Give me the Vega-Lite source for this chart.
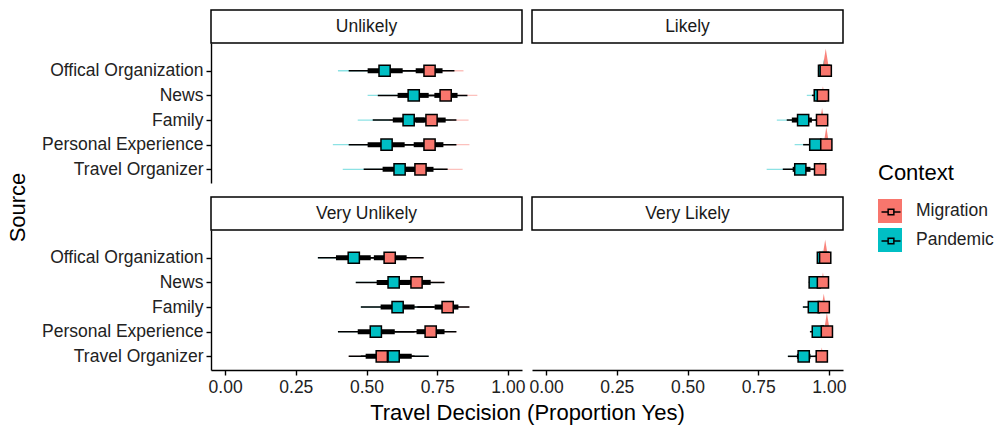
{
  "$schema": "https://vega.github.io/schema/vega-lite/v6.json",
  "autosize": {"type": "pad"},
  "padding": {"left": 6, "top": 9, "right": 8, "bottom": 2},
  "datasets": {
    "d": [
      {"panel": "Unlikely", "Source": "Offical Organization", "Context": "Pandemic", "med": 0.564, "lo66": 0.504, "hi66": 0.628, "lo95": 0.437, "hi95": 0.69, "slo": 0.399, "shi": 0.72, "peak": 0},
      {"panel": "Unlikely", "Source": "News", "Context": "Pandemic", "med": 0.667, "lo66": 0.61, "hi66": 0.72, "lo95": 0.54, "hi95": 0.78, "slo": 0.504, "shi": 0.81, "peak": 0},
      {"panel": "Unlikely", "Source": "Family", "Context": "Pandemic", "med": 0.649, "lo66": 0.593, "hi66": 0.705, "lo95": 0.522, "hi95": 0.76, "slo": 0.469, "shi": 0.8, "peak": 0},
      {"panel": "Unlikely", "Source": "Personal Experience", "Context": "Pandemic", "med": 0.571, "lo66": 0.504, "hi66": 0.635, "lo95": 0.437, "hi95": 0.69, "slo": 0.381, "shi": 0.74, "peak": 0},
      {"panel": "Unlikely", "Source": "Travel Organizer", "Context": "Pandemic", "med": 0.617, "lo66": 0.557, "hi66": 0.67, "lo95": 0.49, "hi95": 0.73, "slo": 0.416, "shi": 0.77, "peak": 0},
      {"panel": "Likely", "Source": "Offical Organization", "Context": "Pandemic", "med": 0.983, "lo66": 0.975, "hi66": 0.99, "lo95": 0.965, "hi95": 0.995, "slo": 0.961, "shi": 1.0, "peak": 0.55},
      {"panel": "Likely", "Source": "News", "Context": "Pandemic", "med": 0.968, "lo66": 0.958, "hi66": 0.976, "lo95": 0.94, "hi95": 0.985, "slo": 0.922, "shi": 0.995, "peak": 0.2},
      {"panel": "Likely", "Source": "Family", "Context": "Pandemic", "med": 0.909, "lo66": 0.869, "hi66": 0.94, "lo95": 0.851, "hi95": 0.96, "slo": 0.816, "shi": 0.975, "peak": 0.08},
      {"panel": "Likely", "Source": "Personal Experience", "Context": "Pandemic", "med": 0.952, "lo66": 0.94, "hi66": 0.965, "lo95": 0.909, "hi95": 0.978, "slo": 0.879, "shi": 0.99, "peak": 0.2},
      {"panel": "Likely", "Source": "Travel Organizer", "Context": "Pandemic", "med": 0.899, "lo66": 0.872, "hi66": 0.935, "lo95": 0.837, "hi95": 0.955, "slo": 0.78, "shi": 0.97, "peak": 0.06},
      {"panel": "Very Unlikely", "Source": "Offical Organization", "Context": "Pandemic", "med": 0.455, "lo66": 0.392, "hi66": 0.515, "lo95": 0.328, "hi95": 0.58, "slo": 0.328, "shi": 0.58, "peak": 0},
      {"panel": "Very Unlikely", "Source": "News", "Context": "Pandemic", "med": 0.596, "lo66": 0.536, "hi66": 0.65, "lo95": 0.462, "hi95": 0.72, "slo": 0.462, "shi": 0.72, "peak": 0},
      {"panel": "Very Unlikely", "Source": "Family", "Context": "Pandemic", "med": 0.61, "lo66": 0.55, "hi66": 0.67, "lo95": 0.48, "hi95": 0.74, "slo": 0.48, "shi": 0.74, "peak": 0},
      {"panel": "Very Unlikely", "Source": "Personal Experience", "Context": "Pandemic", "med": 0.533, "lo66": 0.469, "hi66": 0.6, "lo95": 0.399, "hi95": 0.67, "slo": 0.399, "shi": 0.67, "peak": 0},
      {"panel": "Very Unlikely", "Source": "Travel Organizer", "Context": "Pandemic", "med": 0.596, "lo66": 0.54, "hi66": 0.66, "lo95": 0.48, "hi95": 0.72, "slo": 0.48, "shi": 0.72, "peak": 0},
      {"panel": "Very Likely", "Source": "Offical Organization", "Context": "Pandemic", "med": 0.979, "lo66": 0.972, "hi66": 0.985, "lo95": 0.965, "hi95": 0.99, "slo": 0.965, "shi": 0.99, "peak": 0.35},
      {"panel": "Very Likely", "Source": "News", "Context": "Pandemic", "med": 0.95, "lo66": 0.94, "hi66": 0.96, "lo95": 0.929, "hi95": 0.97, "slo": 0.929, "shi": 0.97, "peak": 0.1},
      {"panel": "Very Likely", "Source": "Family", "Context": "Pandemic", "med": 0.947, "lo66": 0.93, "hi66": 0.96, "lo95": 0.908, "hi95": 0.972, "slo": 0.908, "shi": 0.972, "peak": 0.1},
      {"panel": "Very Likely", "Source": "Personal Experience", "Context": "Pandemic", "med": 0.961, "lo66": 0.95, "hi66": 0.97, "lo95": 0.933, "hi95": 0.98, "slo": 0.933, "shi": 0.98, "peak": 0.1},
      {"panel": "Very Likely", "Source": "Travel Organizer", "Context": "Pandemic", "med": 0.911, "lo66": 0.887, "hi66": 0.935, "lo95": 0.855, "hi95": 0.955, "slo": 0.855, "shi": 0.955, "peak": 0.05},
      {"panel": "Unlikely", "Source": "Offical Organization", "Context": "Migration", "med": 0.723, "lo66": 0.674, "hi66": 0.769, "lo95": 0.62, "hi95": 0.811, "slo": 0.58, "shi": 0.843, "peak": 0},
      {"panel": "Unlikely", "Source": "News", "Context": "Migration", "med": 0.78, "lo66": 0.74, "hi66": 0.822, "lo95": 0.69, "hi95": 0.857, "slo": 0.65, "shi": 0.892, "peak": 0},
      {"panel": "Unlikely", "Source": "Family", "Context": "Migration", "med": 0.73, "lo66": 0.675, "hi66": 0.78, "lo95": 0.62, "hi95": 0.818, "slo": 0.58, "shi": 0.861, "peak": 0},
      {"panel": "Unlikely", "Source": "Personal Experience", "Context": "Migration", "med": 0.723, "lo66": 0.667, "hi66": 0.772, "lo95": 0.615, "hi95": 0.818, "slo": 0.57, "shi": 0.864, "peak": 0},
      {"panel": "Unlikely", "Source": "Travel Organizer", "Context": "Migration", "med": 0.691, "lo66": 0.64, "hi66": 0.737, "lo95": 0.59, "hi95": 0.787, "slo": 0.55, "shi": 0.84, "peak": 0},
      {"panel": "Likely", "Source": "Offical Organization", "Context": "Migration", "med": 0.989, "lo66": 0.984, "hi66": 0.994, "lo95": 0.975, "hi95": 0.998, "slo": 0.97, "shi": 1.0, "peak": 1.0},
      {"panel": "Likely", "Source": "News", "Context": "Migration", "med": 0.979, "lo66": 0.972, "hi66": 0.986, "lo95": 0.962, "hi95": 0.993, "slo": 0.955, "shi": 0.998, "peak": 0.42},
      {"panel": "Likely", "Source": "Family", "Context": "Migration", "med": 0.976, "lo66": 0.966, "hi66": 0.985, "lo95": 0.95, "hi95": 0.992, "slo": 0.94, "shi": 0.998, "peak": 0.55},
      {"panel": "Likely", "Source": "Personal Experience", "Context": "Migration", "med": 0.991, "lo66": 0.986, "hi66": 0.995, "lo95": 0.978, "hi95": 0.998, "slo": 0.97, "shi": 1.0, "peak": 0.8},
      {"panel": "Likely", "Source": "Travel Organizer", "Context": "Migration", "med": 0.969, "lo66": 0.955, "hi66": 0.98, "lo95": 0.935, "hi95": 0.99, "slo": 0.925, "shi": 0.995, "peak": 0.38},
      {"panel": "Very Unlikely", "Source": "Offical Organization", "Context": "Migration", "med": 0.582, "lo66": 0.526, "hi66": 0.642, "lo95": 0.46, "hi95": 0.702, "slo": 0.46, "shi": 0.702, "peak": 0},
      {"panel": "Very Unlikely", "Source": "News", "Context": "Migration", "med": 0.677, "lo66": 0.62, "hi66": 0.727, "lo95": 0.55, "hi95": 0.776, "slo": 0.55, "shi": 0.776, "peak": 0},
      {"panel": "Very Unlikely", "Source": "Family", "Context": "Migration", "med": 0.787, "lo66": 0.741, "hi66": 0.825, "lo95": 0.68, "hi95": 0.864, "slo": 0.68, "shi": 0.864, "peak": 0},
      {"panel": "Very Unlikely", "Source": "Personal Experience", "Context": "Migration", "med": 0.727, "lo66": 0.677, "hi66": 0.776, "lo95": 0.6, "hi95": 0.818, "slo": 0.6, "shi": 0.818, "peak": 0},
      {"panel": "Very Unlikely", "Source": "Travel Organizer", "Context": "Migration", "med": 0.554, "lo66": 0.497, "hi66": 0.61, "lo95": 0.437, "hi95": 0.67, "slo": 0.437, "shi": 0.67, "peak": 0},
      {"panel": "Very Likely", "Source": "Offical Organization", "Context": "Migration", "med": 0.987, "lo66": 0.982, "hi66": 0.992, "lo95": 0.975, "hi95": 0.996, "slo": 0.97, "shi": 1.0, "peak": 0.82},
      {"panel": "Very Likely", "Source": "News", "Context": "Migration", "med": 0.979, "lo66": 0.972, "hi66": 0.986, "lo95": 0.962, "hi95": 0.993, "slo": 0.955, "shi": 0.998, "peak": 0.45},
      {"panel": "Very Likely", "Source": "Family", "Context": "Migration", "med": 0.982, "lo66": 0.975, "hi66": 0.988, "lo95": 0.965, "hi95": 0.994, "slo": 0.96, "shi": 0.998, "peak": 0.6},
      {"panel": "Very Likely", "Source": "Personal Experience", "Context": "Migration", "med": 0.993, "lo66": 0.988, "hi66": 0.996, "lo95": 0.98, "hi95": 0.999, "slo": 0.975, "shi": 1.0, "peak": 0.86},
      {"panel": "Very Likely", "Source": "Travel Organizer", "Context": "Migration", "med": 0.975, "lo66": 0.965, "hi66": 0.984, "lo95": 0.95, "hi95": 0.99, "slo": 0.945, "shi": 0.996, "peak": 0.4}
    ]
  },
  "columns": 2,
  "spacing": {"row": 0, "column": 10},
  "bounds": "flush",
  "concat": [
    {
      "width": 311, "height": 33,
      "data": {"values": [{"label": "Unlikely"}]},
      "view": {"stroke": "black", "strokeWidth": 1.5, "fill": "white"},
      "mark": {"type": "text", "fontSize": 17.5, "font": "Liberation Sans", "color": "#1a1a1a"},
      "encoding": {"text": {"field": "label", "type": "nominal"}}
    },
    {
      "width": 311, "height": 33,
      "data": {"values": [{"label": "Likely"}]},
      "view": {"stroke": "black", "strokeWidth": 1.5, "fill": "white"},
      "mark": {"type": "text", "fontSize": 17.5, "font": "Liberation Sans", "color": "#1a1a1a"},
      "encoding": {"text": {"field": "label", "type": "nominal"}}
    },
    {
      "width": 311, "height": 140,
      "data": {"name": "d"},
      "transform": [{"filter": "datum.panel === 'Unlikely'"}],
      "encoding": {
        "y": {"field": "Source", "type": "nominal", "sort": ["Offical Organization", "News", "Family", "Personal Experience", "Travel Organizer"], "scale": {"type": "point", "padding": 0.84, "align": 0.67},
          "axis": {"title": "Source", "titleX": -187, "titleY": 164, "titleAngle": 270, "titleAlign": "center", "titleBaseline": "alphabetic"}}
      },
      "layer": [
        {"mark": {"type": "rule", "strokeWidth": 1.3, "opacity": 0.45}, "encoding": {"x": {"field": "slo", "type": "quantitative", "scale": {"domain": [-0.05, 1.05], "nice": false, "zero": false}, "axis": null}, "x2": {"field": "shi"}, "stroke": {"field": "Context", "type": "nominal", "scale": {"domain": ["Pandemic", "Migration"], "range": ["#00BFC4", "#F8766D"]}, "legend": null}}},
        {"mark": {"type": "rule", "color": "black", "strokeWidth": 1.5}, "encoding": {"x": {"field": "lo95", "type": "quantitative"}, "x2": {"field": "hi95"}}},
        {"mark": {"type": "rule", "color": "black", "strokeWidth": 5}, "encoding": {"x": {"field": "lo66", "type": "quantitative"}, "x2": {"field": "hi66"}}},
        {"mark": {"type": "point", "shape": "M-0.16,0L0,-1L0.16,0Z", "filled": true, "opacity": 0.9, "strokeWidth": 0}, "encoding": {"x": {"field": "med", "type": "quantitative"}, "fill": {"field": "Context", "type": "nominal", "scale": {"domain": ["Pandemic", "Migration"], "range": ["#00BFC4", "#F8766D"]}, "legend": null}, "size": {"field": "peak", "type": "quantitative", "scale": {"type": "pow", "exponent": 2, "domain": [0, 1], "range": [0, 1936]}, "legend": null}}},
        {"mark": {"type": "square", "size": 125, "filled": true, "stroke": "black", "strokeWidth": 1.5, "opacity": 1}, "encoding": {"x": {"field": "med", "type": "quantitative"}, "color": {"field": "Context", "type": "nominal", "scale": {"domain": ["Migration", "Pandemic"], "range": ["#F8766D", "#00BFC4"]},
          "legend": {"title": "Context", "orient": "none", "legendX": 667, "legendY": 153, "symbolType": "square", "symbolSize": 576, "symbolStrokeWidth": 0, "symbolOpacity": 1, "titleFontSize": 22, "titleFontWeight": "normal", "titleColor": "black", "labelFontSize": 17.5, "labelColor": "#222", "titlePadding": 14, "rowPadding": 5, "labelOffset": 14}}}},
        {"mark": {"type": "point", "filled": false, "opacity": 0}, "encoding": {"x": {"field": "med", "type": "quantitative"}, "shape": {"field": "Context", "type": "nominal", "scale": {"range": ["M-1,0L-0.3,0M0.3,0L1,0M-0.3,-0.3L0.3,-0.3L0.3,0.3L-0.3,0.3Z", "M-1,0L-0.3,0M0.3,0L1,0M-0.3,-0.3L0.3,-0.3L0.3,0.3L-0.3,0.3Z"]},
          "legend": {"title": null, "orient": "none", "legendX": 669.5, "legendY": 191.5, "symbolSize": 361, "symbolStrokeWidth": 1.5, "symbolStrokeColor": "black", "symbolFillColor": "transparent", "symbolOpacity": 1, "labelExpr": "''", "labelFontSize": 17.5, "rowPadding": 10, "labelOffset": 0}}}}
      ]
    },
    {
      "width": 311, "height": 140,
      "data": {"name": "d"},
      "transform": [{"filter": "datum.panel === 'Likely'"}],
      "encoding": {
        "y": {"field": "Source", "type": "nominal", "sort": ["Offical Organization", "News", "Family", "Personal Experience", "Travel Organizer"], "scale": {"type": "point", "padding": 0.84, "align": 0.67}, "axis": null}
      },
      "layer": [
        {"mark": {"type": "rule", "strokeWidth": 1.3, "opacity": 0.45}, "encoding": {"x": {"field": "slo", "type": "quantitative", "scale": {"domain": [-0.05, 1.05], "nice": false, "zero": false}, "axis": null}, "x2": {"field": "shi"}, "stroke": {"field": "Context", "type": "nominal", "scale": {"domain": ["Pandemic", "Migration"], "range": ["#00BFC4", "#F8766D"]}, "legend": null}}},
        {"mark": {"type": "rule", "color": "black", "strokeWidth": 1.5}, "encoding": {"x": {"field": "lo95", "type": "quantitative"}, "x2": {"field": "hi95"}}},
        {"mark": {"type": "rule", "color": "black", "strokeWidth": 5}, "encoding": {"x": {"field": "lo66", "type": "quantitative"}, "x2": {"field": "hi66"}}},
        {"mark": {"type": "point", "shape": "M-0.16,0L0,-1L0.16,0Z", "filled": true, "opacity": 0.9, "strokeWidth": 0}, "encoding": {"x": {"field": "med", "type": "quantitative"}, "fill": {"field": "Context", "type": "nominal", "scale": {"domain": ["Pandemic", "Migration"], "range": ["#00BFC4", "#F8766D"]}, "legend": null}, "size": {"field": "peak", "type": "quantitative", "scale": {"type": "pow", "exponent": 2, "domain": [0, 1], "range": [0, 1936]}, "legend": null}}},
        {"mark": {"type": "square", "size": 125, "filled": true, "stroke": "black", "strokeWidth": 1.5, "opacity": 1}, "encoding": {"x": {"field": "med", "type": "quantitative"}, "color": {"field": "Context", "type": "nominal", "scale": {"domain": ["Migration", "Pandemic"], "range": ["#F8766D", "#00BFC4"]}}}}
      ]
    },
    {
      "width": 311, "height": 14,
      "data": {"values": [{"label": ""}]},
      "mark": {"type": "text"},
      "encoding": {"text": {"field": "label", "type": "nominal"}}
    },
    {
      "width": 311, "height": 14,
      "data": {"values": [{"label": ""}]},
      "mark": {"type": "text"},
      "encoding": {"text": {"field": "label", "type": "nominal"}}
    },
    {
      "width": 311, "height": 33,
      "data": {"values": [{"label": "Very Unlikely"}]},
      "view": {"stroke": "black", "strokeWidth": 1.5, "fill": "white"},
      "mark": {"type": "text", "fontSize": 17.5, "font": "Liberation Sans", "color": "#1a1a1a"},
      "encoding": {"text": {"field": "label", "type": "nominal"}}
    },
    {
      "width": 311, "height": 33,
      "data": {"values": [{"label": "Very Likely"}]},
      "view": {"stroke": "black", "strokeWidth": 1.5, "fill": "white"},
      "mark": {"type": "text", "fontSize": 17.5, "font": "Liberation Sans", "color": "#1a1a1a"},
      "encoding": {"text": {"field": "label", "type": "nominal"}}
    },
    {
      "width": 311, "height": 140,
      "data": {"name": "d"},
      "transform": [{"filter": "datum.panel === 'Very Unlikely'"}],
      "encoding": {
        "y": {"field": "Source", "type": "nominal", "sort": ["Offical Organization", "News", "Family", "Personal Experience", "Travel Organizer"], "scale": {"type": "point", "padding": 0.84, "align": 0.67}, "axis": {"title": null}}
      },
      "layer": [
        {"mark": {"type": "rule", "strokeWidth": 1.3, "opacity": 0.45}, "encoding": {"x": {"field": "slo", "type": "quantitative", "scale": {"domain": [-0.05, 1.05], "nice": false, "zero": false},
          "axis": {"title": "Travel Decision (Proportion Yes)", "titleX": 316, "titleY": 49, "titleAlign": "center", "titleBaseline": "alphabetic", "values": [0, 0.25, 0.5, 0.75, 1], "format": ".2f", "labelFlush": false}}, "x2": {"field": "shi"}, "stroke": {"field": "Context", "type": "nominal", "scale": {"domain": ["Pandemic", "Migration"], "range": ["#00BFC4", "#F8766D"]}, "legend": null}}},
        {"mark": {"type": "rule", "color": "black", "strokeWidth": 1.5}, "encoding": {"x": {"field": "lo95", "type": "quantitative"}, "x2": {"field": "hi95"}}},
        {"mark": {"type": "rule", "color": "black", "strokeWidth": 5}, "encoding": {"x": {"field": "lo66", "type": "quantitative"}, "x2": {"field": "hi66"}}},
        {"mark": {"type": "point", "shape": "M-0.16,0L0,-1L0.16,0Z", "filled": true, "opacity": 0.9, "strokeWidth": 0}, "encoding": {"x": {"field": "med", "type": "quantitative"}, "fill": {"field": "Context", "type": "nominal", "scale": {"domain": ["Pandemic", "Migration"], "range": ["#00BFC4", "#F8766D"]}, "legend": null}, "size": {"field": "peak", "type": "quantitative", "scale": {"type": "pow", "exponent": 2, "domain": [0, 1], "range": [0, 1936]}, "legend": null}}},
        {"mark": {"type": "square", "size": 125, "filled": true, "stroke": "black", "strokeWidth": 1.5, "opacity": 1}, "encoding": {"x": {"field": "med", "type": "quantitative"}, "color": {"field": "Context", "type": "nominal", "scale": {"domain": ["Migration", "Pandemic"], "range": ["#F8766D", "#00BFC4"]}}}}
      ]
    },
    {
      "width": 311, "height": 140,
      "data": {"name": "d"},
      "transform": [{"filter": "datum.panel === 'Very Likely'"}],
      "encoding": {
        "y": {"field": "Source", "type": "nominal", "sort": ["Offical Organization", "News", "Family", "Personal Experience", "Travel Organizer"], "scale": {"type": "point", "padding": 0.84, "align": 0.67}, "axis": null}
      },
      "layer": [
        {"mark": {"type": "rule", "strokeWidth": 1.3, "opacity": 0.45}, "encoding": {"x": {"field": "slo", "type": "quantitative", "scale": {"domain": [-0.05, 1.05], "nice": false, "zero": false},
          "axis": {"title": null, "values": [0, 0.25, 0.5, 0.75, 1], "format": ".2f", "labelFlush": false}}, "x2": {"field": "shi"}, "stroke": {"field": "Context", "type": "nominal", "scale": {"domain": ["Pandemic", "Migration"], "range": ["#00BFC4", "#F8766D"]}, "legend": null}}},
        {"mark": {"type": "rule", "color": "black", "strokeWidth": 1.5}, "encoding": {"x": {"field": "lo95", "type": "quantitative"}, "x2": {"field": "hi95"}}},
        {"mark": {"type": "rule", "color": "black", "strokeWidth": 5}, "encoding": {"x": {"field": "lo66", "type": "quantitative"}, "x2": {"field": "hi66"}}},
        {"mark": {"type": "point", "shape": "M-0.16,0L0,-1L0.16,0Z", "filled": true, "opacity": 0.9, "strokeWidth": 0}, "encoding": {"x": {"field": "med", "type": "quantitative"}, "fill": {"field": "Context", "type": "nominal", "scale": {"domain": ["Pandemic", "Migration"], "range": ["#00BFC4", "#F8766D"]}, "legend": null}, "size": {"field": "peak", "type": "quantitative", "scale": {"type": "pow", "exponent": 2, "domain": [0, 1], "range": [0, 1936]}, "legend": null}}},
        {"mark": {"type": "square", "size": 125, "filled": true, "stroke": "black", "strokeWidth": 1.5, "opacity": 1}, "encoding": {"x": {"field": "med", "type": "quantitative"}, "color": {"field": "Context", "type": "nominal", "scale": {"domain": ["Migration", "Pandemic"], "range": ["#F8766D", "#00BFC4"]}}}}
      ]
    }
  ],
  "config": {
    "font": "Liberation Sans",
    "view": {"stroke": null},
    "axis": {"domainColor": "black", "domainWidth": 1.4, "tickColor": "black", "tickWidth": 1.4, "tickSize": 5, "labelFontSize": 17.5, "labelColor": "#222", "labelFont": "Liberation Sans", "titleFont": "Liberation Sans", "titleFontSize": 22, "titleFontWeight": "normal", "titleColor": "black", "grid": false, "labelPadding": 3},
    "legend": {"labelFont": "Liberation Sans", "titleFont": "Liberation Sans"}
  }
}
